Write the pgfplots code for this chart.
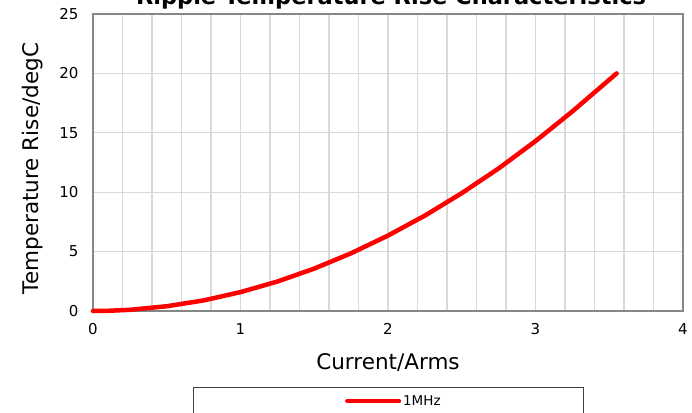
\documentclass[border=0pt]{standalone}
\usepackage{fontspec}
\setmainfont{DejaVu Sans}
\usepackage{pgfplots}
\pgfplotsset{compat=1.18}
\definecolor{axgray}{HTML}{868686}
\definecolor{grd}{HTML}{D9D9D9}
\begin{document}
\begin{tikzpicture}[x=1pt,y=1pt]
\useasboundingbox (0,0) rectangle (692,412);
\begin{axis}[
  at={(93pt,101pt)}, anchor=south west,
  scale only axis, width=590pt, height=297pt,
  xmin=0, xmax=4, ymin=0, ymax=25,
  xtick={0,1,2,3,4}, ytick={0,5,10,15,20,25},
  minor x tick num=4,
  grid=both,
  major grid style={grd, line width=1.1pt},
  minor grid style={grd, line width=1.1pt},
  axis line style={axgray, line width=2.2pt},
  tick style={draw=none},
  /pgf/number format/assume math mode=true,
  tick label style={font=\fontsize{15}{17}\selectfont, black},
  xticklabel style={yshift=-9pt},
  yticklabel style={xshift=-11pt},
  xlabel={Current/Arms},
  ylabel={Temperature Rise/degC},
  label style={font=\fontsize{21.5}{24}\selectfont},
  xlabel style={at={(axis description cs:0.5,0)}, anchor=center, yshift=-52pt},
  ylabel style={at={(axis description cs:0,0.48)}, anchor=center, yshift=60pt},
  legend style={at={(0.427,-0.303)}, anchor=west, draw=none, fill=none,
    font=\fontsize{13.5}{15}\selectfont, inner sep=0pt},
  legend image code/.code={\draw[#1, line width=4pt] (0pt,0pt) -- (52pt,0pt);},
  clip=false,
]
\addplot[red, line width=4.5pt, line cap=round, line join=round] coordinates {
(0,0) (0.1,0.016) (0.25,0.10) (0.5,0.40) (0.75,0.89) (1,1.59) (1.25,2.48) (1.5,3.57)
(1.75,4.86) (2,6.35) (2.25,8.03) (2.5,9.92) (2.75,12.0) (3,14.3) (3.25,16.8) (3.55,20.0)
};
\addlegendentry{1MHz}
\end{axis}
\draw[draw=black!75, line width=1pt] (193,-5) rectangle (583,25);
\node[anchor=base, font=\bfseries\fontsize{22.5}{26}\selectfont] at (391,407) {Ripple Temperature Rise Characteristics};
\end{tikzpicture}
\end{document}
